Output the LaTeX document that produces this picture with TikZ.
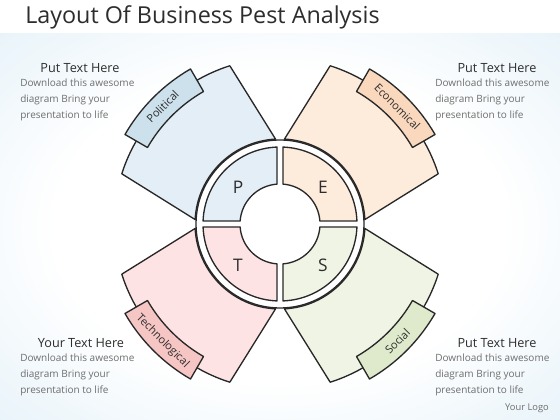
\documentclass[tikz,border=0pt]{standalone}
\usepackage{fontspec}
\setmainfont{Open Sans}
\definecolor{bgblue}{RGB}{212,233,245}
\definecolor{polfill}{RGB}{228,238,247}
\definecolor{poltab}{RGB}{205,225,237}
\definecolor{ecofill}{RGB}{253,235,220}
\definecolor{ecotab}{RGB}{249,216,189}
\definecolor{socfill}{RGB}{239,244,228}
\definecolor{soctab}{RGB}{222,234,203}
\definecolor{tecfill}{RGB}{253,227,227}
\definecolor{tectab}{RGB}{246,198,197}
\definecolor{inkline}{RGB}{40,40,40}
\definecolor{bodygray}{RGB}{110,110,110}
\definecolor{headgray}{RGB}{45,45,45}
\pgfdeclareradialshading{bgshade}{\pgfpoint{0bp}{0bp}}{color(0bp)=(white); color(20bp)=(white); color(50bp)=(bgblue)}
\newcommand\petalshape[2]{%
  \draw[outl, fill=#2] (#1+3:85) -- (#1+17.6:166)
    arc[start angle=#1+17.6, end angle=#1+72.4, radius=166]
    -- (#1+87:85) arc[start angle=#1+87, end angle=#1+3, radius=85] -- cycle;}
\newcommand\tabshape[2]{%
  \draw[outl, fill=#2] (#1+30:153) arc[start angle=#1+30, end angle=#1+60, radius=153]
    -- (#1+60:179) arc[start angle=#1+60, end angle=#1+30, radius=179] -- cycle;}
\newcommand\segshape[2]{%
  \draw[outl, fill=#2] (#1+2.23:77) arc[start angle=#1+2.23, end angle=#1+87.77, radius=77]
    -- (#1+85.7:40) arc[start angle=#1+85.7, end angle=#1+4.3, radius=40] -- cycle;}
\begin{document}
\begin{tikzpicture}[x=0.75pt,y=0.75pt,
  outl/.style={draw=inkline, line width=1pt, line join=round},
  tablabel/.style={font=\fontsize{8.3}{9}\selectfont, text=headgray},
  letter/.style={font=\fontsize{13}{14}\selectfont, text=headgray},
  head/.style={font=\fontsize{9.5}{11}\selectfont, text=headgray},
  body/.style={font=\fontsize{7.5}{12}\selectfont, text=bodygray, align=left, anchor=north west, inner sep=0pt},
]
\useasboundingbox (0,0) rectangle (560,420);
\fill[white] (0,0) rectangle (560,420);
\shade[shading=bgshade] (0,0) rectangle (560,386);
\node[anchor=west, inner sep=0pt, font=\fontsize{17.5}{20}\selectfont, text=headgray] (title) at (25,403) {Layout Of Business Pest Analysis};
\begin{scope}[shift={(280,196)}]
  \petalshape{90}{polfill}
  \petalshape{0}{ecofill}
  \petalshape{-90}{socfill}
  \petalshape{180}{tecfill}
  \tabshape{90}{poltab}
  \tabshape{0}{ecotab}
  \tabshape{-90}{soctab}
  \tabshape{180}{tectab}
  \node[tablabel, rotate=45] (lpol) at (135:166) {Political};
  \node[tablabel, rotate=-45] (leco) at (45:166) {Economical};
  \node[tablabel, rotate=45] (lsoc) at (-45:166) {Social};
  \node[tablabel, rotate=-45] (ltec) at (225:166) {Technological};
  \draw[outl, fill=white] (0,0) circle[radius=84];
  \segshape{90}{polfill}
  \segshape{0}{ecofill}
  \segshape{-90}{socfill}
  \segshape{180}{tecfill}
  \node[letter] (lp) at (-42,37) {P};
  \node[letter] (le) at (43,37) {E};
  \node[letter] (ls) at (43,-41) {S};
  \node[letter] (lt) at (-42,-41) {T};
\end{scope}
\node[head] (h1) at (80,352) {Put Text Here};
\node[body] (b1) at (20,341) {Download this awesome\\diagram Bring your\\presentation to life};
\node[head] (h2) at (497,352) {Put Text Here};
\node[body] (b2) at (435,341) {Download this awesome\\diagram Bring your\\presentation to life};
\node[head] (h3) at (81,77) {Your Text Here};
\node[body] (b3) at (20,66) {Download this awesome\\diagram Bring your\\presentation to life};
\node[head] (h4) at (497,77) {Put Text Here};
\node[body] (b4) at (435,66) {Download this awesome\\diagram Bring your\\presentation to life};
\node[font=\fontsize{7}{8}\selectfont, text=bodygray] (logo) at (527,12) {Your Logo};
\end{tikzpicture}
\end{document}
